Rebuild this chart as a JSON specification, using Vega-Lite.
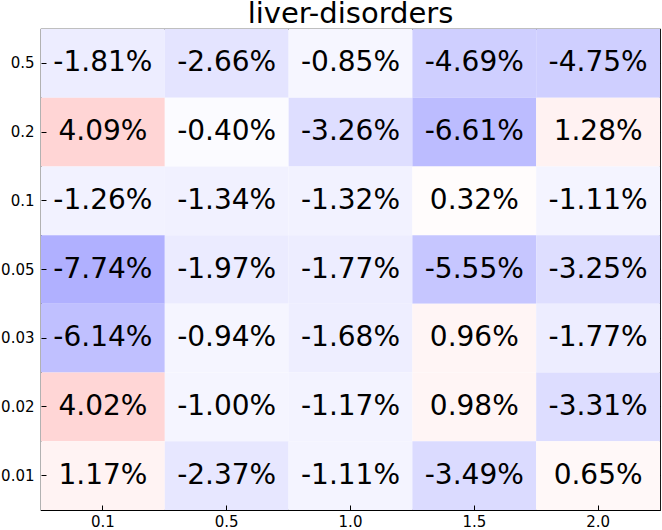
{
  "$schema": "https://vega.github.io/schema/vega-lite/v6.json",
  "width": 619,
  "height": 481,
  "autosize": "none",
  "padding": {"left": 41, "top": 29, "right": 2, "bottom": 20},
  "background": "white",
  "title": {"text": "liver-disorders", "fontSize": 29, "font": "DejaVu Sans", "fontWeight": "normal", "color": "black", "offset": 0},
  "config": {
    "view": {"stroke": "black", "strokeWidth": 1.2},
    "axis": {"domain": false, "grid": false, "tickColor": "black", "tickSize": -5, "tickWidth": 1, "labelFont": "DejaVu Sans", "labelFontSize": 15, "labelColor": "black", "title": null}
  },
  "data": {"values": [
    {"row": "0.5", "col": "0.1", "value": -1.81, "label": "-1.81%"},
    {"row": "0.5", "col": "0.5", "value": -2.66, "label": "-2.66%"},
    {"row": "0.5", "col": "1.0", "value": -0.85, "label": "-0.85%"},
    {"row": "0.5", "col": "1.5", "value": -4.69, "label": "-4.69%"},
    {"row": "0.5", "col": "2.0", "value": -4.75, "label": "-4.75%"},
    {"row": "0.2", "col": "0.1", "value": 4.09, "label": "4.09%"},
    {"row": "0.2", "col": "0.5", "value": -0.40, "label": "-0.40%"},
    {"row": "0.2", "col": "1.0", "value": -3.26, "label": "-3.26%"},
    {"row": "0.2", "col": "1.5", "value": -6.61, "label": "-6.61%"},
    {"row": "0.2", "col": "2.0", "value": 1.28, "label": "1.28%"},
    {"row": "0.1", "col": "0.1", "value": -1.26, "label": "-1.26%"},
    {"row": "0.1", "col": "0.5", "value": -1.34, "label": "-1.34%"},
    {"row": "0.1", "col": "1.0", "value": -1.32, "label": "-1.32%"},
    {"row": "0.1", "col": "1.5", "value": 0.32, "label": "0.32%"},
    {"row": "0.1", "col": "2.0", "value": -1.11, "label": "-1.11%"},
    {"row": "0.05", "col": "0.1", "value": -7.74, "label": "-7.74%"},
    {"row": "0.05", "col": "0.5", "value": -1.97, "label": "-1.97%"},
    {"row": "0.05", "col": "1.0", "value": -1.77, "label": "-1.77%"},
    {"row": "0.05", "col": "1.5", "value": -5.55, "label": "-5.55%"},
    {"row": "0.05", "col": "2.0", "value": -3.25, "label": "-3.25%"},
    {"row": "0.03", "col": "0.1", "value": -6.14, "label": "-6.14%"},
    {"row": "0.03", "col": "0.5", "value": -0.94, "label": "-0.94%"},
    {"row": "0.03", "col": "1.0", "value": -1.68, "label": "-1.68%"},
    {"row": "0.03", "col": "1.5", "value": 0.96, "label": "0.96%"},
    {"row": "0.03", "col": "2.0", "value": -1.77, "label": "-1.77%"},
    {"row": "0.02", "col": "0.1", "value": 4.02, "label": "4.02%"},
    {"row": "0.02", "col": "0.5", "value": -1.00, "label": "-1.00%"},
    {"row": "0.02", "col": "1.0", "value": -1.17, "label": "-1.17%"},
    {"row": "0.02", "col": "1.5", "value": 0.98, "label": "0.98%"},
    {"row": "0.02", "col": "2.0", "value": -3.31, "label": "-3.31%"},
    {"row": "0.01", "col": "0.1", "value": 1.17, "label": "1.17%"},
    {"row": "0.01", "col": "0.5", "value": -2.37, "label": "-2.37%"},
    {"row": "0.01", "col": "1.0", "value": -1.11, "label": "-1.11%"},
    {"row": "0.01", "col": "1.5", "value": -3.49, "label": "-3.49%"},
    {"row": "0.01", "col": "2.0", "value": 0.65, "label": "0.65%"}
  ]},
  "layer": [
    {
      "mark": {"type": "rect"},
      "encoding": {
        "x": {"field": "col", "type": "ordinal", "sort": ["0.1", "0.5", "1.0", "1.5", "2.0"], "scale": {"paddingInner": 0, "paddingOuter": 0}, "axis": {"orient": "bottom", "labelAngle": 0, "labelPadding": 9}},
        "y": {"field": "row", "type": "ordinal", "sort": ["0.5", "0.2", "0.1", "0.05", "0.03", "0.02", "0.01"], "scale": {"paddingInner": 0, "paddingOuter": 0}, "axis": {"orient": "left", "labelPadding": 12}},
        "color": {"field": "value", "type": "quantitative", "scale": {"domain": [-25, 0, 25], "range": ["#0000ff", "#ffffff", "#ff0000"], "interpolate": "rgb"}, "legend": null}
      }
    },
    {
      "mark": {"type": "text", "font": "DejaVu Sans", "fontSize": 28, "color": "black", "baseline": "middle", "align": "center"},
      "encoding": {
        "x": {"field": "col", "type": "ordinal", "sort": ["0.1", "0.5", "1.0", "1.5", "2.0"], "axis": {"orient": "top", "labels": false}},
        "y": {"field": "row", "type": "ordinal", "sort": ["0.5", "0.2", "0.1", "0.05", "0.03", "0.02", "0.01"], "axis": {"orient": "right", "labels": false}},
        "text": {"field": "label", "type": "nominal"}
      }
    }
  ],
  "resolve": {"axis": {"x": "independent", "y": "independent"}}
}
